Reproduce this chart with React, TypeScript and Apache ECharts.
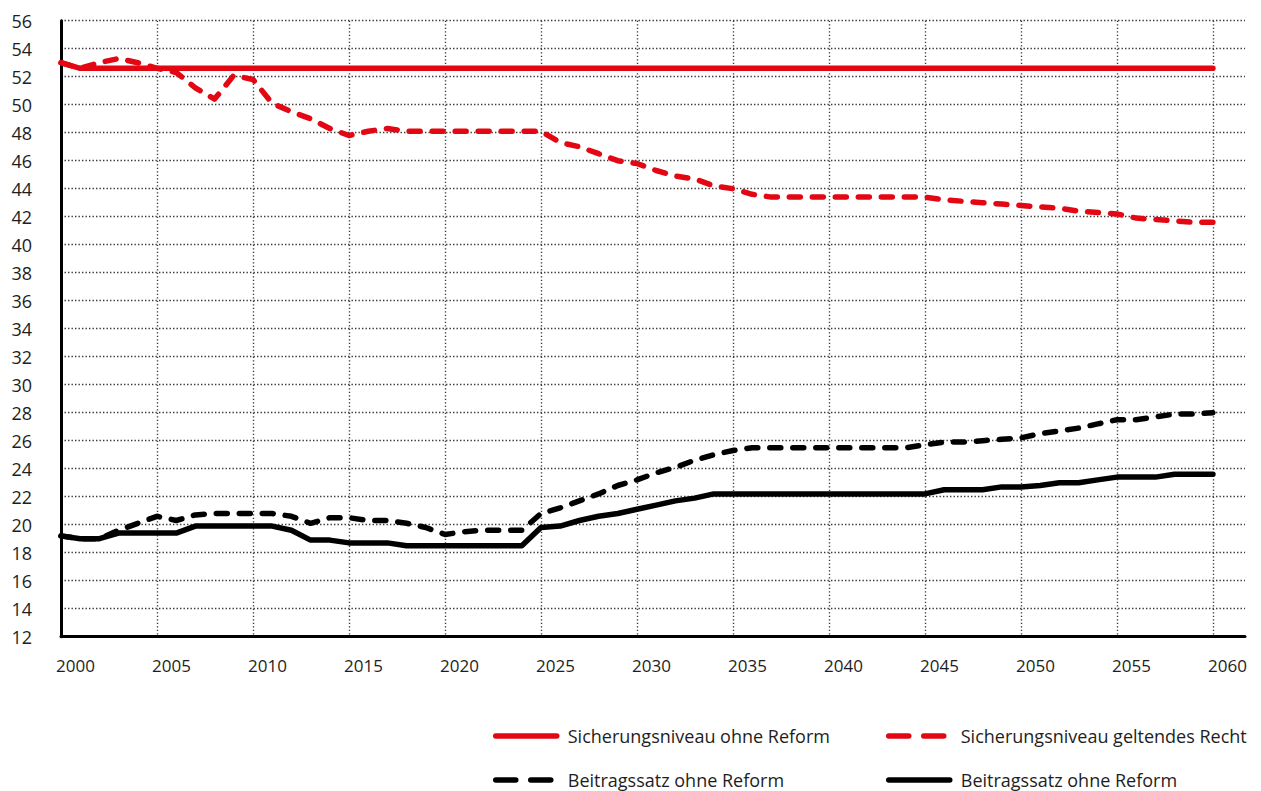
import React, { useEffect, useRef } from "react";
import * as echarts from "echarts";

const years: number[] = Array.from({ length: 61 }, (_, i) => 2000 + i);

const xTickLabels = ["2000", "2005", "2010", "2015", "2020", "2025", "2030", "2035", "2040", "2045", "2050", "2055", "2060"];

const sicherungOhneReform = [
  53.0, 52.6, 52.6, 52.6, 52.6, 52.6, 52.6, 52.6, 52.6, 52.6,
  52.6, 52.6, 52.6, 52.6, 52.6, 52.6, 52.6, 52.6, 52.6, 52.6,
  52.6, 52.6, 52.6, 52.6, 52.6, 52.6, 52.6, 52.6, 52.6, 52.6,
  52.6, 52.6, 52.6, 52.6, 52.6, 52.6, 52.6, 52.6, 52.6, 52.6,
  52.6, 52.6, 52.6, 52.6, 52.6, 52.6, 52.6, 52.6, 52.6, 52.6,
  52.6, 52.6, 52.6, 52.6, 52.6, 52.6, 52.6, 52.6, 52.6, 52.6,
  52.6,
];

const sicherungGeltend = [
  53.0, 52.6, 53.0, 53.3, 53.0, 52.6, 52.3, 51.2, 50.4, 52.1,
  51.8, 50.1, 49.5, 49.0, 48.3, 47.8, 48.1, 48.3, 48.1, 48.1,
  48.1, 48.1, 48.1, 48.1, 48.1, 48.1, 47.3, 47.0, 46.5, 46.0,
  45.8, 45.3, 44.9, 44.7, 44.2, 44.0, 43.6, 43.4, 43.4, 43.4,
  43.4, 43.4, 43.4, 43.4, 43.4, 43.4, 43.2, 43.1, 43.0, 42.9,
  42.8, 42.7, 42.6, 42.4, 42.3, 42.2, 41.9, 41.8, 41.7, 41.6,
  41.6,
];

const beitragDashed = [
  19.2, 19.0, 19.0, 19.6, 20.1, 20.6, 20.3, 20.7, 20.8, 20.8,
  20.8, 20.8, 20.6, 20.1, 20.5, 20.5, 20.3, 20.3, 20.1, 19.8,
  19.3, 19.5, 19.6, 19.6, 19.6, 20.8, 21.2, 21.7, 22.2, 22.8,
  23.2, 23.7, 24.1, 24.6, 25.0, 25.3, 25.5, 25.5, 25.5, 25.5,
  25.5, 25.5, 25.5, 25.5, 25.5, 25.7, 25.9, 25.9, 26.0, 26.1,
  26.2, 26.5, 26.7, 26.9, 27.2, 27.5, 27.5, 27.7, 27.9, 27.9,
  28.0,
];

const beitragSolid = [
  19.2, 19.0, 19.0, 19.4, 19.4, 19.4, 19.4, 19.9, 19.9, 19.9,
  19.9, 19.9, 19.6, 18.9, 18.9, 18.7, 18.7, 18.7, 18.5, 18.5,
  18.5, 18.5, 18.5, 18.5, 18.5, 19.8, 19.9, 20.3, 20.6, 20.8,
  21.1, 21.4, 21.7, 21.9, 22.2, 22.2, 22.2, 22.2, 22.2, 22.2,
  22.2, 22.2, 22.2, 22.2, 22.2, 22.2, 22.5, 22.5, 22.5, 22.7,
  22.7, 22.8, 23.0, 23.0, 23.2, 23.4, 23.4, 23.4, 23.6, 23.6,
  23.6,
];

const legendLabels: Record<string, string> = {
  s1: "Sicherungsniveau ohne Reform",
  s2: "Sicherungsniveau geltendes Recht",
  b1: "Beitragssatz ohne Reform",
  b2: "Beitragssatz ohne Reform",
};

const RED = "#e30613";
const BLACK = "#000000";
const FONT = "'Open Sans', sans-serif";
const TEXT = "#1e1e1e";
const LW = 5.5;
const GRID_LINE = { color: "#3a3a3a", width: 1.4, type: [1.4, 2.1] };

function pairs(vals: number[]) {
  return years.map((y, i) => [y, vals[i]]);
}

export default function App() {
  const ref = useRef<HTMLDivElement>(null);
  useEffect(() => {
    document.body.style.margin = "0";
    const chart = echarts.init(ref.current!, undefined, { renderer: "svg" });
    const legendBase = {
      orient: "horizontal",
      padding: 0,
      itemWidth: 61,
      itemHeight: 20,
      selectedMode: false,
      formatter: (n: string) => legendLabels[n],
      itemStyle: { opacity: 0, borderWidth: 0 },
      textStyle: { fontFamily: FONT, fontSize: 18, color: TEXT, padding: [0, 0, 0, 6], lineHeight: 20 },
    };
    const solidLegendLine = { width: LW };
    const dashedLegendLine = { width: LW, type: [20, 15], cap: "round" };
    chart.setOption({
      animation: false,
      backgroundColor: "#ffffff",
      grid: { left: 61, right: 16, top: 20.7, bottom: 154.3, containLabel: false, outerBoundsMode: "none" },
      xAxis: {
        type: "value",
        min: 2000,
        max: 2061.67,
        interval: 5,
        axisLine: { show: true, lineStyle: { color: BLACK, width: 3 } },
        axisTick: { show: false },
        axisLabel: {
          showMaxLabel: false,
          margin: 20,
          padding: [0, 0, 0, 29],
          fontFamily: FONT,
          fontSize: 17,
          color: TEXT,
          formatter: (v: number) => {
            const s = String(Math.round(v));
            return xTickLabels.includes(s) && Math.abs(v - Math.round(v)) < 1e-6 ? s : "";
          },
        },
        splitLine: {
          show: true,
          showMinLine: false,
          showMaxLine: false,
          lineStyle: GRID_LINE,
        },
      },
      yAxis: {
        type: "value",
        min: 12,
        max: 56,
        interval: 2,
        axisLine: { show: true, lineStyle: { color: BLACK, width: 3 } },
        axisTick: { show: false },
        axisLabel: { margin: 29, fontFamily: FONT, fontSize: 18, color: TEXT },
        splitLine: {
          show: true,
          lineStyle: GRID_LINE,
        },
      },
      legend: [
        { ...legendBase, data: ["s1"], left: 493, top: 726, lineStyle: solidLegendLine },
        { ...legendBase, data: ["s2"], left: 886, top: 726, lineStyle: dashedLegendLine },
        { ...legendBase, data: ["b1"], left: 493, top: 770, lineStyle: dashedLegendLine },
        { ...legendBase, data: ["b2"], left: 886, top: 770, lineStyle: solidLegendLine },
      ],
      series: [
        {
          name: "s2",
          type: "line",
          data: pairs(sicherungGeltend),
          symbol: "none",
          lineStyle: { color: RED, width: LW, type: [11, 12], cap: "round", join: "round" },
          itemStyle: { color: RED },
          z: 2,
        },
        {
          name: "s1",
          type: "line",
          data: pairs(sicherungOhneReform),
          symbol: "none",
          lineStyle: { color: RED, width: LW, cap: "round", join: "round" },
          itemStyle: { color: RED },
          z: 3,
        },
        {
          name: "b1",
          type: "line",
          data: pairs(beitragDashed),
          symbol: "none",
          lineStyle: { color: BLACK, width: LW, type: [11, 12], cap: "round", join: "round" },
          itemStyle: { color: BLACK },
          z: 2,
        },
        {
          name: "b2",
          type: "line",
          data: pairs(beitragSolid),
          symbol: "none",
          lineStyle: { color: BLACK, width: LW, cap: "round", join: "round" },
          itemStyle: { color: BLACK },
          z: 3,
        },
      ],
    });
    return () => chart.dispose();
  }, []);
  return <div ref={ref} style={{ width: 1261, height: 791 }} />;
}
